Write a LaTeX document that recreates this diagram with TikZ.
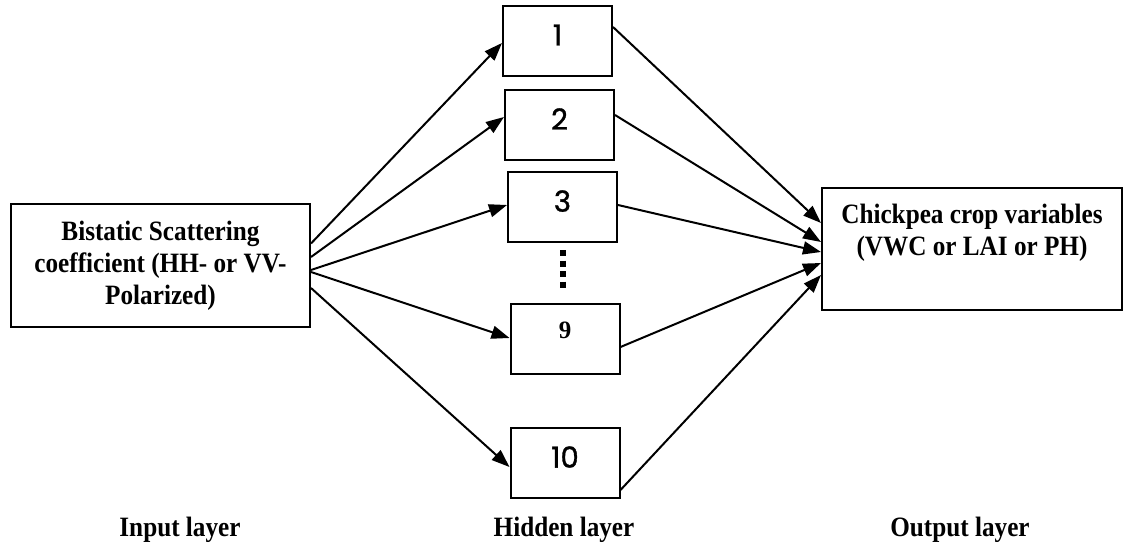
\documentclass[tikz,border=0pt]{standalone}
\usepackage{fontspec}
\setmainfont{Liberation Serif}
\newfontfamily\tallfont[FakeStretch=0.9]{Liberation Serif}
\newfontfamily\numfont[FakeBold=1.2]{Poppins}
\usetikzlibrary{arrows.meta}
\begin{document}
\begin{tikzpicture}[x=1pt,y=-1pt,
    box/.style={draw,line width=2pt,inner sep=0pt},
    hid/.style={box,minimum width=109pt,minimum height=70pt,text depth=12pt,font=\numfont\fontsize{29}{32}\selectfont},
    txt/.style={font=\tallfont\bfseries\fontsize{28}{32}\selectfont,align=center},
    arr/.style={line width=2pt,-{Triangle[length=18pt,width=13pt]}}]
    \useasboundingbox (0,0) rectangle (1123,556);
    % input and output
    \node[box,txt,minimum width=299pt,minimum height=123pt] (in) at (160.5,265.5)
      {Bistatic Scattering\\coefficient (HH- or VV-\\Polarized)};
    \node[box,minimum width=300pt,minimum height=122pt] (out) at (972,249) {};
    \node[txt,anchor=north] (outtxt) at ([yshift=-14pt]out.north)
      {Chickpea crop variables\\(VWC or LAI or PH)};
    % hidden layer
    \node[hid] (h1) at (557.5,41) {1};
    \node[hid] (h2) at (559.5,125) {2};
    \node[hid] (h3) at (562.5,207) {3};
    \node[hid,font=\bfseries\fontsize{25}{28}\selectfont,text depth=18pt] (h9) at (565,339) {9};
    \node[hid] (h10) at (565,463) {10};
    \draw[line width=6pt,dash pattern=on 6pt off 4.5pt] (563,250) -- (563,291);
    % input to hidden
    \draw[arr] ([yshift=22pt]in.east) -- ([yshift=-2pt]h1.west);
    \draw[arr] ([yshift=8.5pt]in.east) -- ([yshift=8pt]h2.west);
    \draw[arr] ([yshift=-4.5pt]in.east) -- ([yshift=2pt]h3.west);
    \draw[arr] ([yshift=-6.5pt]in.east) -- ([yshift=1pt]h9.west);
    \draw[arr] ([yshift=-22.5pt]in.east) -- ([yshift=-4pt]h10.west);
    % hidden to output
    \draw[arr] ([yshift=14pt]h1.east) -- ([yshift=26pt]out.west);
    \draw[arr] ([yshift=10pt]h2.east) -- ([yshift=7pt]out.west);
    \draw[arr] ([yshift=2pt]h3.east) -- ([yshift=-3pt]out.west);
    \draw[arr] ([yshift=-8pt]h9.east) -- ([yshift=-14pt]out.west);
    \draw[arr] ([yshift=-27pt]h10.east) -- ([yshift=-26pt]out.west);
    % layer names
    \node[txt] (lin) at (180,530) {Input layer};
    \node[txt] (lhid) at (564,530) {Hidden layer};
    \node[txt] (lout) at (960,530) {Output layer};
\end{tikzpicture}
\end{document}
